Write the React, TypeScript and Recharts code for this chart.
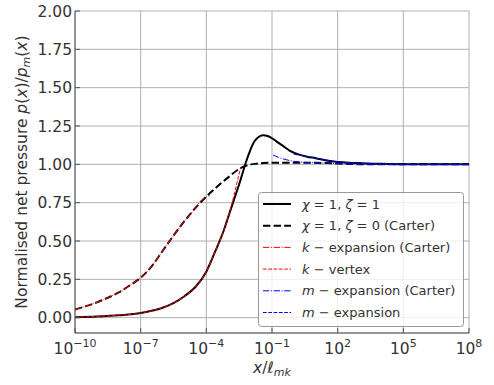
import { CartesianGrid, Line, LineChart, XAxis, YAxis } from "recharts";

// x values are stored as log10(x / l_mk)
const xTickExps = [-10, -7, -4, -1, 2, 5, 8];
const yTicks = [0, 0.25, 0.5, 0.75, 1, 1.25, 1.5, 1.75, 2];
const yMinorTicks = [
  -0.1, -0.05, 0.05, 0.1, 0.15, 0.2, 0.3, 0.35, 0.4, 0.45, 0.55, 0.6, 0.65, 0.7, 0.8, 0.85, 0.9, 0.95,
  1.05, 1.1, 1.15, 1.2, 1.3, 1.35, 1.4, 1.45, 1.55, 1.6, 1.65, 1.7, 1.8, 1.85, 1.9, 1.95,
];

const fullLogX = [-10, -9, -8, -7, -6.5, -6, -5.5, -5, -4.5, -4, -3.6, -3.2, -2.9, -2.7, -2.5, -2.35, -2.2, -2.0, -1.8, -1.6, -1.4, -1.2, -1.0, -0.8, -0.5, -0.2, 0.2, 0.6, 1.0, 1.5, 2, 2.5, 3, 4, 5, 6, 8];
const fullY = [0.003, 0.008, 0.016, 0.03, 0.045, 0.065, 0.095, 0.14, 0.2, 0.3, 0.43, 0.57, 0.7, 0.785, 0.87, 0.94, 1.01, 1.09, 1.15, 1.18, 1.19, 1.185, 1.17, 1.15, 1.12, 1.09, 1.065, 1.05, 1.04, 1.025, 1.016, 1.011, 1.008, 1.003, 1.001, 1.0, 1.0];

const carterLogX = [-10, -9.5, -9, -8.5, -8, -7.5, -7, -6.5, -6, -5.5, -5, -4.5, -4, -3.5, -3, -2.5, -2.2, -1.8, -1.4, -1, 0, 1, 1.5, 2, 3, 4, 8];
const carterY = [0.053, 0.075, 0.1, 0.13, 0.165, 0.21, 0.26, 0.335, 0.435, 0.535, 0.63, 0.715, 0.79, 0.855, 0.915, 0.97, 0.99, 1.003, 1.008, 1.01, 1.01, 1.01, 1.008, 1.005, 1.001, 1.0, 1.0];

const kExpCarterLogX = [-10, -9.5, -9, -8.5, -8, -7.5, -7, -6.5, -6, -5.5, -5, -4.5, -4.3, -4.05, -3.85];
const kExpCarterY = [0.053, 0.075, 0.1, 0.13, 0.165, 0.21, 0.26, 0.335, 0.435, 0.535, 0.63, 0.715, 0.755, 0.785, 0.795];

const kVertexLogX = [-10, -9, -8, -7, -6.5, -6, -5.5, -5, -4.5, -4, -3.6, -3.2, -3.0, -2.8, -2.6, -2.43];
const kVertexY = [0.003, 0.008, 0.016, 0.03, 0.045, 0.065, 0.095, 0.14, 0.2, 0.3, 0.43, 0.57, 0.66, 0.76, 0.88, 0.98];

const mExpCarterLogX = [-0.95, -0.7, -0.4, -0.1, 0.3, 1, 2, 3, 4, 8];
const mExpCarterY = [1.06, 1.045, 1.032, 1.022, 1.015, 1.01, 1.005, 1.001, 1.0, 1.0];

const mExpLogX = [0, 0.4, 0.8, 1.2, 1.6, 2, 3, 4, 5, 8];
const mExpY = [1.066, 1.056, 1.046, 1.035, 1.025, 1.017, 1.008, 1.003, 1.001, 1.0];

const toPoints = (lx: number[], ys: number[]) => lx.map((e, i) => ({ x: Math.pow(10, e), y: ys[i] }));

const FONT = "DejaVu Sans";
const TEXT = "#333333";
const SPINE = "#555555";

const it = (s: string) => <tspan fontStyle="italic">{s}</tspan>;

const series = [
  { key: "full", data: toPoints(fullLogX, fullY), color: "#000000", width: 2, dash: undefined as string | undefined,
    label: <>{it("χ")} = 1, {it("ζ")} = 1</> },
  { key: "carter", data: toPoints(carterLogX, carterY), color: "#000000", width: 2, dash: "7.4 3.2",
    label: <>{it("χ")} = 1, {it("ζ")} = 0 (Carter)</> },
  { key: "kexpc", data: toPoints(kExpCarterLogX, kExpCarterY), color: "#ff0000", width: 1, dash: "6.4 1.6 1 1.6",
    label: <>{it("k")} − expansion (Carter)</> },
  { key: "kvert", data: toPoints(kVertexLogX, kVertexY), color: "#ff0000", width: 1, dash: "3.7 1.6",
    label: <>{it("k")} − vertex</> },
  { key: "mexpc", data: toPoints(mExpCarterLogX, mExpCarterY), color: "#0000ff", width: 1, dash: "6.4 1.6 1 1.6",
    label: <>{it("m")} − expansion (Carter)</> },
  { key: "mexp", data: toPoints(mExpLogX, mExpY), color: "#0000ff", width: 1, dash: "3.7 1.6",
    label: <>{it("m")} − expansion</> },
];

const XTick = (props: any) => {
  const { x, y, payload } = props;
  const e = Math.round(Math.log10(payload.value));
  const exp = e < 0 ? `\u2212${-e}` : `${e}`;
  return (
    <text x={x} y={y + 21} textAnchor="middle" fill={TEXT} fontSize={15.5} fontFamily={FONT}>
      10<tspan dy={-7} fontSize={11}>{exp}</tspan>
    </text>
  );
};

const YTitle = (props: any) => {
  const vb = props.viewBox || { y: 11, height: 322 };
  const cy = vb.y + vb.height / 2;
  return (
    <text transform={`translate(27,${cy}) rotate(-90)`} textAnchor="middle" fill={TEXT} fontSize={15.5} fontFamily={FONT}>
      Normalised net pressure {it("p")}({it("x")})/{it("p")}
      <tspan dy={3} fontSize={11} fontStyle="italic">m</tspan>
      <tspan dy={-3}>(</tspan>{it("x")})
    </text>
  );
};

const XTitle = (props: any) => {
  const vb = props.viewBox || { x: 75, width: 394 };
  const cx = vb.x + vb.width / 2;
  return (
    <text x={cx} y={373} textAnchor="middle" fill={TEXT} fontSize={15.5} fontFamily={FONT}>
      {it("x")}/{it("ℓ")}
      <tspan dy={3} fontSize={11} fontStyle="italic">mk</tspan>
    </text>
  );
};

const xTicks = xTickExps.map((e) => Math.pow(10, e));
const xDomain = [1e-10, 1e8];
const yDomain = [-0.1, 2];

export default function App() {
  const legendX = 258;
  const legendY = 192;
  const rowH = 21.7;
  return (
    <div style={{ position: "absolute", left: 0, top: 0, width: 494, height: 385, background: "#fff" }}>
      <LineChart width={494} height={385} margin={{ top: 11, right: 25, bottom: 0, left: 0 }}>
        <CartesianGrid xAxisId="main" yAxisId="main" stroke="#b0b0b0" strokeWidth={1} />
        <XAxis
          xAxisId="main"
          type="number"
          dataKey="x"
          scale="log"
          domain={xDomain}
          allowDataOverflow
          ticks={xTicks}
          interval={0}
          height={52}
          tickSize={-5}
          tickMargin={5}
          stroke={SPINE}
          tick={<XTick />}
          label={<XTitle />}
        />
        <XAxis
          xAxisId="top"
          orientation="top"
          type="number"
          dataKey="x"
          scale="log"
          domain={xDomain}
          allowDataOverflow
          ticks={xTicks}
          height={0}
          tick={false}
          tickLine={false}
          stroke={SPINE}
        />
        <YAxis
          yAxisId="main"
          type="number"
          domain={yDomain}
          allowDataOverflow
          ticks={yTicks}
          interval={0}
          width={75}
          tickSize={-5}
          tickMargin={8}
          stroke={SPINE}
          tickFormatter={(v: number) => v.toFixed(2)}
          tick={{ fontSize: 15.5, fill: TEXT, fontFamily: FONT }}
          label={<YTitle />}
        />
        <YAxis yAxisId="leftMinor" type="number" domain={yDomain} allowDataOverflow ticks={yMinorTicks} interval={0}
          width={0} mirror tickSize={3} tick={false} axisLine={false} stroke={SPINE} />
        <YAxis yAxisId="rightMajor" orientation="right" type="number" domain={yDomain} allowDataOverflow ticks={yTicks}
          interval={0} width={0} mirror tickSize={5} tick={false} stroke={SPINE} />
        <YAxis yAxisId="rightMinor" orientation="right" type="number" domain={yDomain} allowDataOverflow
          ticks={yMinorTicks} interval={0} width={0} mirror tickSize={3} tick={false} axisLine={false} stroke={SPINE} />
        {series.map((s) => (
          <Line
            key={s.key}
            xAxisId="main"
            yAxisId="main"
            data={s.data}
            dataKey="y"
            type="monotone"
            stroke={s.color}
            strokeWidth={s.width}
            strokeDasharray={s.dash}
            dot={false}
            activeDot={false}
            isAnimationActive={false}
          />
        ))}
      </LineChart>
      <svg width={494} height={385} style={{ position: "absolute", left: 0, top: 0, pointerEvents: "none" }}>
        <rect x={legendX + 0.5} y={legendY + 0.5} width={205} height={134} rx={3} fill="#ffffff" fillOpacity={0.8} stroke="#999999" strokeWidth={1} />
        {series.map((s, i) => {
          const cy = legendY + 12 + i * rowH;
          return (
            <g key={s.key}>
              <line x1={legendX + 5} x2={legendX + 33} y1={cy} y2={cy} stroke={s.color} strokeWidth={s.width} strokeDasharray={s.dash} />
              <text x={legendX + 44} y={cy + 4.5} fill={TEXT} fontSize={13} fontFamily={FONT}>{s.label}</text>
            </g>
          );
        })}
      </svg>
    </div>
  );
}
